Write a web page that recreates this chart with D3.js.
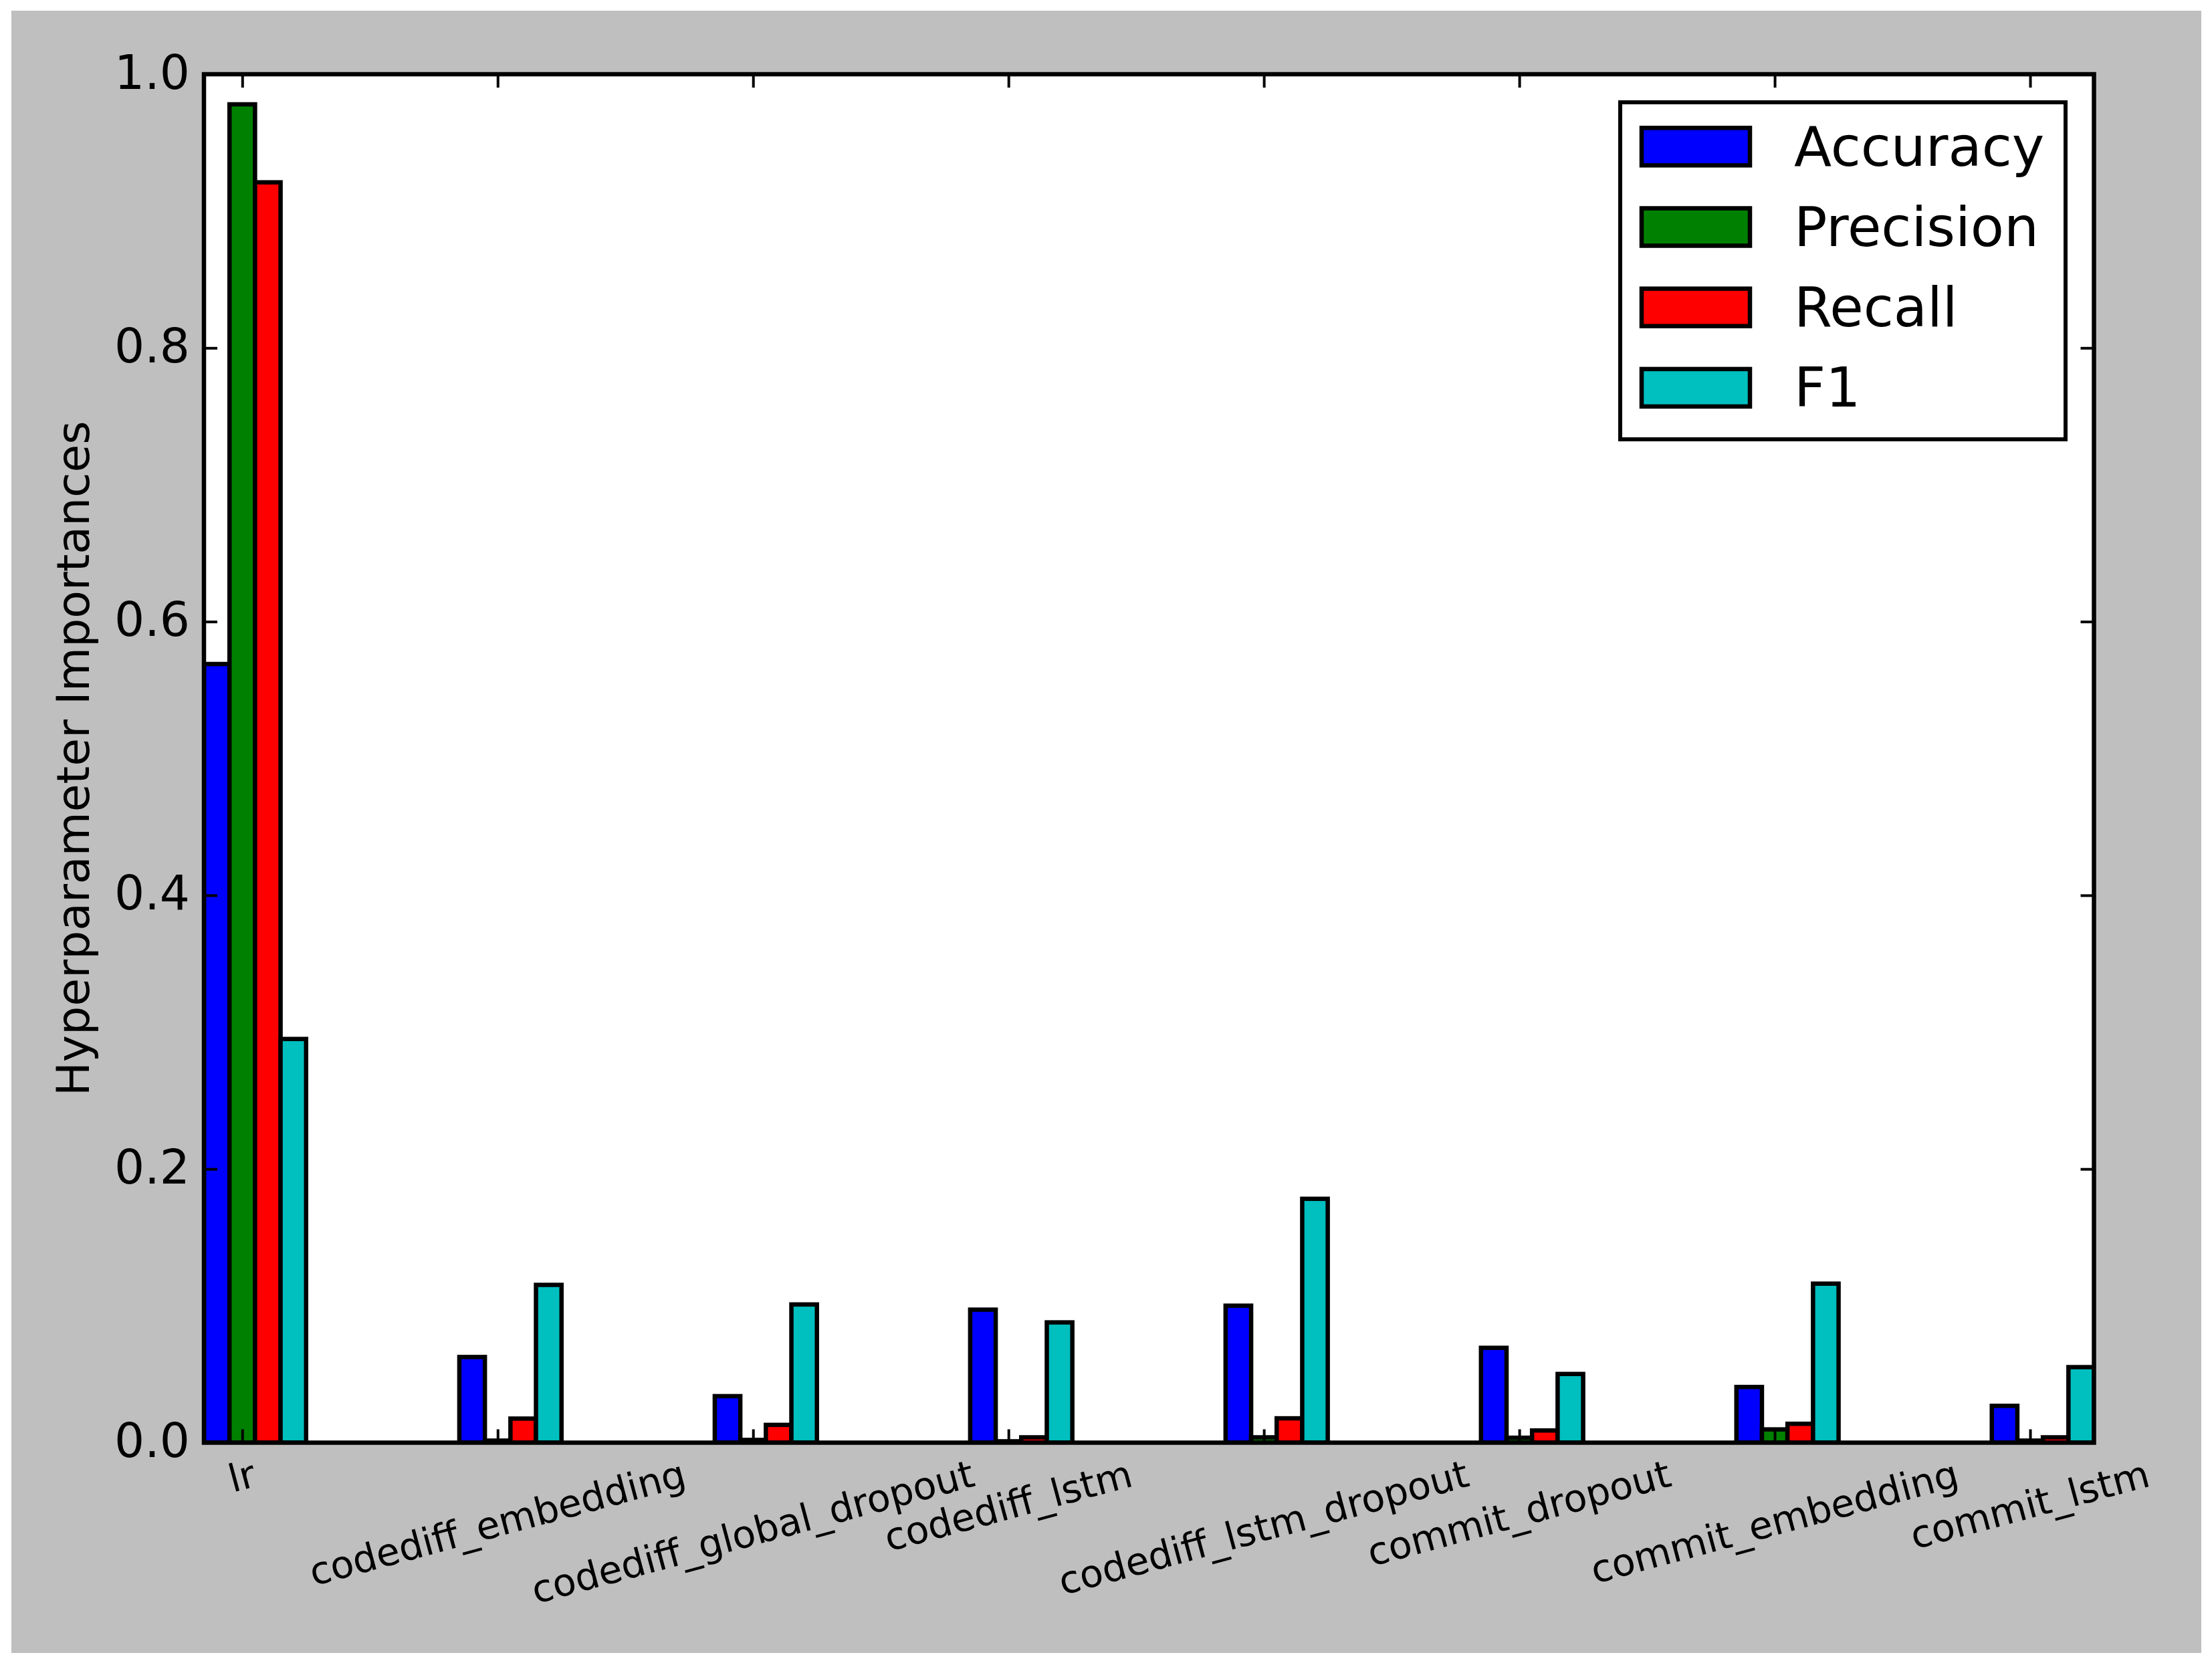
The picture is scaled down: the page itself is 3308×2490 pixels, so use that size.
<!DOCTYPE html>
<html><head><meta charset="utf-8">
<script src="https://cdn.jsdelivr.net/npm/d3@7"></script>
<style>
body{margin:0;background:#ffffff}
svg{display:block}
text{font-family:"DejaVu Sans",sans-serif;fill:#000}
</style>
</head><body>
<svg id="chart" width="3308" height="2490"></svg>
<script>
// ---- data ----
const categories = ["lr","codediff_embedding","codediff_global_dropout","codediff_lstm","codediff_lstm_dropout","commit_dropout","commit_embedding","commit_lstm"];
const seriesNames = ["Accuracy","Precision","Recall","F1"];
const accuracy  = [0.569, 0.0626, 0.034, 0.0972, 0.1001, 0.0693, 0.0407, 0.0269];
const precision = [0.978, 0.0015, 0.002, 0.001, 0.0039, 0.0036, 0.0097, 0.0015];
const recall    = [0.921, 0.0176, 0.013, 0.0039, 0.0178, 0.0089, 0.0138, 0.0039];
const f1        = [0.295, 0.1153, 0.101, 0.0879, 0.1782, 0.0502, 0.1162, 0.0552];
const yTickValues = [0.0, 0.2, 0.4, 0.6, 0.8, 1.0];
const seriesColors = ["#0000ff","#008000","#ff0000","#00bfbf"];

const series = [accuracy, precision, recall, f1];
const barW = 0.1;

// ---- layout ----
const svg = d3.select("#chart");
const L = 305, R = 3131.5, T = 111, B = 2157.5;
const lw = 6.5;

svg.append("rect").attr("x",17).attr("y",16).attr("width",3275).attr("height",2456).attr("fill","#bfbfbf");
svg.append("rect").attr("x",L).attr("y",T).attr("width",R-L).attr("height",B-T).attr("fill","#ffffff");

const x = d3.scaleLinear().domain([-barW/2, categories.length-1 + 3*barW + barW/2]).range([L, R]);
const y = d3.scaleLinear().domain([0, 1]).range([B, T]);

svg.append("clipPath").attr("id","plotclip").append("rect")
  .attr("x",L).attr("y",T).attr("width",R-L).attr("height",B-T);

const barsG = svg.append("g").attr("clip-path","url(#plotclip)");
series.forEach((vals, si) => {
  barsG.append("g").selectAll("rect").data(vals).join("rect")
    .attr("x", (d,i) => x(i + si*barW - barW/2))
    .attr("width", (d,i) => x(i + si*barW + barW/2) - x(i + si*barW - barW/2))
    .attr("y", d => y(d))
    .attr("height", d => y(0) - y(d))
    .attr("fill", seriesColors[si])
    .attr("stroke", "#000")
    .attr("stroke-width", lw);
});

// ---- axes ----
const tickLen = 20;
const xTickVals = categories.map((c,i) => i + barW);

const xAxisB = svg.append("g").attr("transform",`translate(0,${B})`)
  .call(d3.axisBottom(x).tickValues(xTickVals).tickFormat((d,i)=>categories[i]).tickSize(-tickLen).tickPadding(0));
const xAxisT = svg.append("g").attr("transform",`translate(0,${T})`)
  .call(d3.axisTop(x).tickValues(xTickVals).tickFormat("").tickSize(-tickLen));
const yAxisL = svg.append("g").attr("transform",`translate(${L},0)`)
  .call(d3.axisLeft(y).tickValues(yTickValues).tickFormat(d3.format(".1f")).tickSize(-tickLen).tickPadding(21));
const yAxisR = svg.append("g").attr("transform",`translate(${R},0)`)
  .call(d3.axisRight(y).tickValues(yTickValues).tickFormat("").tickSize(-tickLen));

[xAxisB, xAxisT, yAxisL, yAxisR].forEach(g => {
  g.select(".domain").remove();
  g.selectAll(".tick line").attr("stroke","#000").attr("stroke-width",4);
});

yAxisL.selectAll(".tick text")
  .attr("font-family","DejaVu Sans").attr("font-size",71).attr("dy","21px").attr("fill","#000");

// rotated x labels, matplotlib-style alignment (ha=center, va=top on rotated bbox)
const xs = 57, th = 15*Math.PI/180, pad = 22.5;
xAxisB.selectAll(".tick text").each(function(){
  const t = d3.select(this);
  t.attr("font-family","DejaVu Sans").attr("font-size",xs).attr("dy",null).attr("text-anchor","start").attr("fill","#000");
  const W = this.getComputedTextLength();
  const left = -0.76*xs*Math.sin(th);
  const right = W*Math.cos(th) + 0.208*xs*Math.sin(th);
  const top = -W*Math.sin(th) - 0.76*xs*Math.cos(th);
  const ox = -(left+right)/2;
  const oy = pad - top;
  t.attr("x", ox).attr("y", oy).attr("transform", `rotate(-15 ${ox} ${oy})`);
});

// frame
svg.append("rect").attr("x",L).attr("y",T).attr("width",R-L).attr("height",B-T)
  .attr("fill","none").attr("stroke","#000").attr("stroke-width",lw);

// y label
svg.append("text").attr("transform",`translate(133,${(T+B)/2}) rotate(-90)`)
  .attr("text-anchor","middle").attr("font-size",68).text("Hyperparameter Importances");

// ---- legend ----
const lg = svg.append("g");
lg.append("rect").attr("x",2423).attr("y",153).attr("width",666).attr("height",504)
  .attr("fill","#fff").attr("stroke","#000").attr("stroke-width",6);
const rowY = d3.scaleLinear().domain([0,1]).range([219.3, 339.5]);
seriesNames.forEach((name, i) => {
  const cy = rowY(i);
  lg.append("rect").attr("x",2455).attr("y",cy-28).attr("width",162).attr("height",56)
    .attr("fill",seriesColors[i]).attr("stroke","#000").attr("stroke-width",lw);
  lg.append("text").attr("x",2683).attr("y",cy+28.5).attr("font-size",82).text(name);
});
</script>
</body></html>
